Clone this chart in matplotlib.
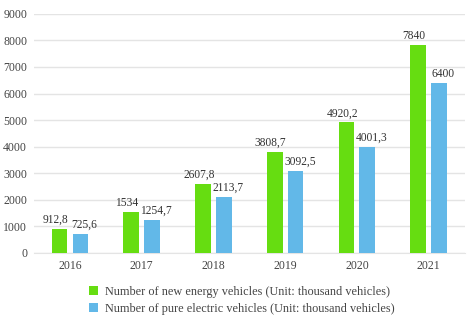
import numpy as np
import matplotlib.pyplot as plt

years = ['2016', '2017', '2018', '2019', '2020', '2021']
new_energy = [912.8, 1534, 2607.8, 3808.7, 4920.2, 7840]
pure_electric = [725.6, 1254.7, 2113.7, 3092.5, 4001.3, 6400]
series_names = ['Number of new energy vehicles (Unit: thousand vehicles)',
                'Number of pure electric vehicles (Unit: thousand vehicles)']


def fmt(v):
    # decimal comma, drop trailing ,0
    s = f'{v:.1f}'.replace('.', ',')
    return s[:-2] if s.endswith(',0') else s


plt.rcParams['font.family'] = ['Liberation Serif', 'DejaVu Serif']

fig = plt.figure(figsize=(4.74, 3.21), dpi=100)
ax = fig.add_axes([0.072, 0.212, 0.908, 0.745])

x = np.arange(len(years))
w = 0.22
off = 0.145
b1 = ax.bar(x - off, new_energy, w, color='#66dd11', label=series_names[0], zorder=3)
b2 = ax.bar(x + off, pure_electric, w, color='#62b8e8', label=series_names[1], zorder=3)

# nudge labels apart so neighbouring values don't collide
for bars, vals, dx in ((b1, new_energy, -3), (b2, pure_electric, 3)):
    for r, v in zip(bars, vals):
        ax.annotate(fmt(v), (r.get_x() + r.get_width() / 2, v), xytext=(dx, 2),
                    textcoords='offset points', ha='center', va='bottom',
                    fontsize=8.3, color='#333333')

ax.set_ylim(0, 9000)
ax.set_yticks(range(0, 9001, 1000))
ax.set_xlim(-0.5, len(years) - 0.5)
ax.set_xticks(x)
ax.set_xticklabels(years)
ax.grid(axis='y', color='#e4e4e4', linewidth=1, zorder=0)
for s in ax.spines.values():
    s.set_visible(False)
ax.spines['bottom'].set_visible(True)
ax.spines['bottom'].set_color('#e4e4e4')
ax.tick_params(length=0, labelsize=8.5, colors='#444444', pad=5)

fig.legend(loc='lower left', bbox_to_anchor=(0.165, -0.015), frameon=False, fontsize=8.8,
           handlelength=0.7, handleheight=0.7, handletextpad=0.6, labelspacing=0.4,
           labelcolor='#444444')

fig.savefig('out.png', dpi=100)
